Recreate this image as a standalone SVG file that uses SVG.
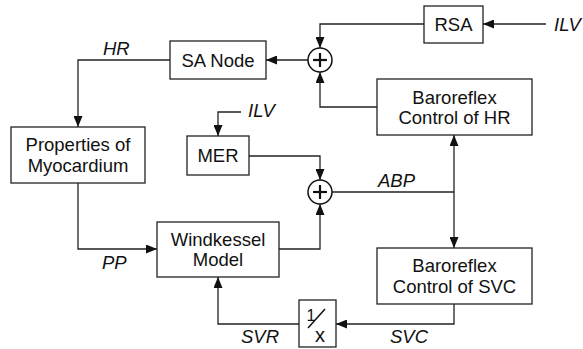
<svg xmlns="http://www.w3.org/2000/svg" width="583" height="349" viewBox="0 0 583 349">
<defs>
<style>
.box{fill:#fff;stroke:#222;stroke-width:1.3}
.t{font-family:"Liberation Sans",Arial,sans-serif;font-size:18.5px;fill:#111;text-anchor:middle}
.l{font-family:"Liberation Sans",Arial,sans-serif;font-size:18.5px;fill:#111;font-style:italic}
.c{fill:none;stroke:#222;stroke-width:1.3}
.a{marker-end:url(#ah)}
.sum{fill:#fff;stroke:#111;stroke-width:1.5}
.plus{stroke:#111;stroke-width:2.2}
</style>
<marker id="ah" markerUnits="userSpaceOnUse" markerWidth="11" markerHeight="9" refX="11" refY="4.5" orient="auto">
<path d="M0,0 L11,4.5 L0,9 z" fill="#111"/>
</marker>
</defs>
<rect width="583" height="349" fill="#fff"/>
<g id="connectors">
<polyline class="c a" points="546,24 483,24"/>
<polyline class="c a" points="424,24 320,24 320,48"/>
<polyline class="c a" points="377,107 320,107 320,72"/>
<polyline class="c a" points="308,60 266,60"/>
<polyline class="c a" points="170,60 78,60 78,127"/>
<polyline class="c a" points="78,183 78,249 157,249"/>
<polyline class="c a" points="241,112 218,112 218,136"/>
<polyline class="c a" points="249,156 320,156 320,180"/>
<polyline class="c a" points="279,249 320,249 320,204"/>
<polyline class="c" points="332,192 454,192"/>
<polyline class="c a" points="454,192 454,135"/>
<polyline class="c a" points="454,192 454,248"/>
<polyline class="c a" points="454,304 454,324 336,324"/>
<polyline class="c a" points="299,324 218,324 218,277"/>
</g>
<g id="labels">
<text class="l" x="103" y="55">HR</text>
<text class="l" x="554" y="30.5">ILV</text>
<text class="l" x="248" y="117">ILV</text>
<text class="l" x="378" y="186.5">ABP</text>
<text class="l" x="102" y="268.5">PP</text>
<text class="l" x="241" y="343">SVR</text>
<text class="l" x="390" y="343">SVC</text>
</g>
<g id="sanode"><rect class="box" x="170" y="41" width="96" height="38"/><text class="t" x="218" y="66.5">SA Node</text></g>
<g id="rsa"><rect class="box" x="424" y="6" width="59" height="37"/><text class="t" x="453.5" y="30.5">RSA</text></g>
<g id="properties"><rect class="box" x="11" y="127" width="134" height="56"/><text class="t" x="78" y="151">Properties of</text><text class="t" x="78" y="172">Myocardium</text></g>
<g id="mer"><rect class="box" x="187" y="136" width="62" height="39"/><text class="t" x="218" y="162">MER</text></g>
<g id="barohr"><rect class="box" x="377" y="79" width="155" height="56"/><text class="t" x="454.5" y="103.5">Baroreflex</text><text class="t" x="454.5" y="123.5">Control of HR</text></g>
<g id="windkessel"><rect class="box" x="157" y="222" width="122" height="55"/><text class="t" x="218" y="245.5">Windkessel</text><text class="t" x="218" y="266">Model</text></g>
<g id="barosvc"><rect class="box" x="377" y="248" width="155" height="56"/><text class="t" x="454.5" y="272">Baroreflex</text><text class="t" x="454.5" y="292.5">Control of SVC</text></g>
<g id="inverse"><rect class="box" x="299" y="300" width="37" height="47"/><text class="t" x="311" y="321" style="font-size:16px">1</text><line x1="308" y1="328" x2="325" y2="309" stroke="#111" stroke-width="1.5"/><text class="t" x="320" y="342" style="font-size:20px">x</text></g>
<g id="sum1"><circle class="sum" cx="320" cy="60" r="12"/><line class="plus" x1="313" y1="60" x2="327" y2="60"/><line class="plus" x1="320" y1="53" x2="320" y2="67"/></g>
<g id="sum2"><circle class="sum" cx="320" cy="192" r="12"/><line class="plus" x1="313" y1="192" x2="327" y2="192"/><line class="plus" x1="320" y1="185" x2="320" y2="199"/></g>
</svg>
